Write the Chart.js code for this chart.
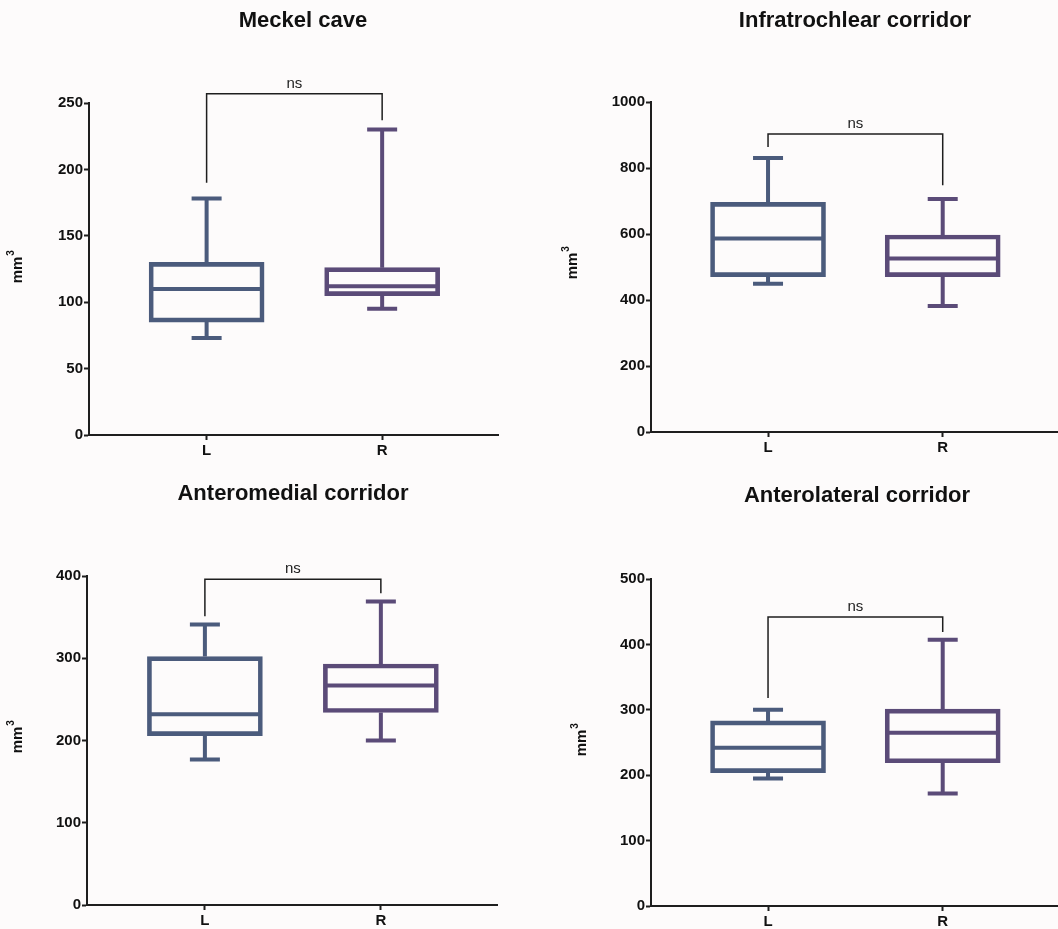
<!DOCTYPE html>
<html>
<head>
<meta charset="utf-8">
<script src="https://cdn.jsdelivr.net/npm/chart.js@4.4.1/dist/chart.umd.min.js"></script>
<style>
  body { margin: 0; background: #fdfbfb; }
  #wrap { position: relative; width: 1058px; height: 929px; }
  canvas { position: absolute; }
</style>
</head>
<body>
<div id="wrap">
  <canvas id="c0" width="529" height="465" style="left:0;top:0"></canvas>
  <canvas id="c1" width="529" height="465" style="left:529px;top:0"></canvas>
  <canvas id="c2" width="529" height="464" style="left:0;top:465px"></canvas>
  <canvas id="c3" width="529" height="464" style="left:529px;top:465px"></canvas>
</div>
<script>
// groups and panel titles
const groups = ['L', 'R'];
const titles = ['Meckel cave', 'Infratrochlear corridor', 'Anteromedial corridor', 'Anterolateral corridor'];

// five-number summaries: [min, q1, median, q3, max]
const meckelL = [73, 85, 110, 130, 178];
const meckelR = [95, 105, 112, 126, 230];
const infraL = [449, 471, 586, 696, 830];
const infraR = [382, 471, 526, 597, 706];
const antMedL = [177, 206, 232, 302, 341];
const antMedR = [200, 234, 267, 293, 369];
const antLatL = [195, 204, 242, 283, 300];
const antLatR = [172, 219, 265, 301, 407];

// y axis ticks
const yMax = [250, 1000, 400, 500];
const yStep = [50, 200, 100, 100];

// "ns" brackets: top, left leg end, right leg end (y values)
const bracketTop = [257, 903, 396, 442];
const bracketLeft = [190, 864, 351, 318];
const bracketRight = [237, 748, 379, 419];

const panels = [
  [meckelL, meckelR],
  [infraL, infraR],
  [antMedL, antMedR],
  [antLatL, antLatR],
];

// layout per panel (pixels)
const layouts = [
  { top: 103, bottom: 435, yw: 89, right: 31, titleX: 303, titleY: 21, labX: 18, labY: 267 },
  { top: 102, bottom: 432, yw: 122, right: 0, titleX: 326, titleY: 21, labX: 44, labY: 263 },
  { top: 111, bottom: 440, yw: 87, right: 32, titleX: 293, titleY: 29, labX: 18, labY: 272 },
  { top: 114, bottom: 441, yw: 122, right: 0, titleX: 328, titleY: 31, labX: 53, labY: 275 },
];

const colors = ['#4b5b7c', '#5b4b78'];
const ink = '#1e1e1e';
const FONT = "'Liberation Sans', Arial, sans-serif";

const boxPlugin = {
  id: 'boxExtras',
  afterDatasetsDraw(chart) {
    const i = chart.options.panelIndex;
    const x = chart.scales.x, y = chart.scales.y;
    const ctx = chart.ctx;
    ctx.save();
    ctx.lineWidth = 4;
    panels[i].forEach((s, g) => {
      const cx = x.getPixelForValue(g + 1);
      ctx.strokeStyle = colors[g];
      ctx.beginPath();
      // median
      ctx.moveTo(cx - 56, y.getPixelForValue(s[2]));
      ctx.lineTo(cx + 56, y.getPixelForValue(s[2]));
      // whiskers
      ctx.moveTo(cx, y.getPixelForValue(s[3]));
      ctx.lineTo(cx, y.getPixelForValue(s[4]));
      ctx.moveTo(cx, y.getPixelForValue(s[1]));
      ctx.lineTo(cx, y.getPixelForValue(s[0]));
      // caps
      ctx.moveTo(cx - 15, y.getPixelForValue(s[4]));
      ctx.lineTo(cx + 15, y.getPixelForValue(s[4]));
      ctx.moveTo(cx - 15, y.getPixelForValue(s[0]));
      ctx.lineTo(cx + 15, y.getPixelForValue(s[0]));
      ctx.stroke();
    });
    ctx.restore();
  },
  afterDraw(chart) {
    const i = chart.options.panelIndex;
    const L = layouts[i];
    const x = chart.scales.x, y = chart.scales.y;
    const ctx = chart.ctx;
    ctx.save();
    // title
    ctx.fillStyle = '#111';
    ctx.font = 'bold 22px ' + FONT;
    ctx.textAlign = 'center';
    ctx.textBaseline = 'middle';
    ctx.fillText(titles[i], L.titleX, L.titleY);

    // significance bracket
    const xl = x.getPixelForValue(1), xr = x.getPixelForValue(2);
    const yt = y.getPixelForValue(bracketTop[i]);
    ctx.strokeStyle = ink;
    ctx.lineWidth = 1.5;
    ctx.beginPath();
    ctx.moveTo(xl, y.getPixelForValue(bracketLeft[i]));
    ctx.lineTo(xl, yt);
    ctx.lineTo(xr, yt);
    ctx.lineTo(xr, y.getPixelForValue(bracketRight[i]));
    ctx.stroke();
    ctx.font = '15px ' + FONT;
    ctx.fillStyle = '#222';
    ctx.textBaseline = 'alphabetic';
    ctx.fillText('ns', (xl + xr) / 2, yt - 6);

    // y axis title mm³
    ctx.translate(L.labX, L.labY);
    ctx.rotate(-Math.PI / 2);
    ctx.textBaseline = 'middle';
    ctx.textAlign = 'center';
    ctx.font = 'bold 15px ' + FONT;
    ctx.fillStyle = '#111';
    ctx.fillText('mm', -3, 0);
    ctx.font = 'bold 10px ' + FONT;
    ctx.fillText('3', 14, -7);
    ctx.restore();
  }
};

panels.forEach((p, i) => {
  const L = layouts[i];
  const canvas = document.getElementById('c' + i);
  new Chart(canvas, {
    type: 'bar',
    data: {
      datasets: [{
        data: p.map((s, g) => ({ x: g + 1, y: [s[1], s[3]] })),
        backgroundColor: 'rgba(0,0,0,0)',
        borderColor: colors,
        borderWidth: 4,
        borderSkipped: false,
        barThickness: 115,
      }],
    },
    options: {
      panelIndex: i,
      responsive: false,
      animation: false,
      events: [],
      layout: { padding: { top: L.top, right: L.right, bottom: 0, left: 0 } },
      plugins: { legend: { display: false }, tooltip: { enabled: false } },
      scales: {
        x: {
          type: 'linear',
          offset: false,
          min: 0.33,
          max: 2.66,
          afterBuildTicks: s => { s.ticks = [{ value: 1 }, { value: 2 }]; },
          afterFit: s => { s.height = canvas.height - L.bottom; },
          grid: { offset: false, drawOnChartArea: false, tickLength: 5, tickWidth: 2, tickColor: ink },
          border: { color: ink, width: 2 },
          ticks: {
            callback: v => groups[v - 1],
            color: '#111',
            padding: 2,
            maxRotation: 0,
            font: { family: FONT, size: 15, weight: 'bold' },
          },
        },
        y: {
          min: 0,
          max: yMax[i],
          afterFit: s => { s.width = L.yw; },
          grid: { drawOnChartArea: false, tickLength: 5, tickWidth: 2, tickColor: ink },
          border: { color: ink, width: 2 },
          ticks: {
            stepSize: yStep[i],
            callback: v => String(v),
            color: '#111',
            padding: 1,
            font: { family: FONT, size: 15, weight: 'bold' },
          },
        },
      },
    },
    plugins: [boxPlugin],
  });
});
</script>
</body>
</html>
